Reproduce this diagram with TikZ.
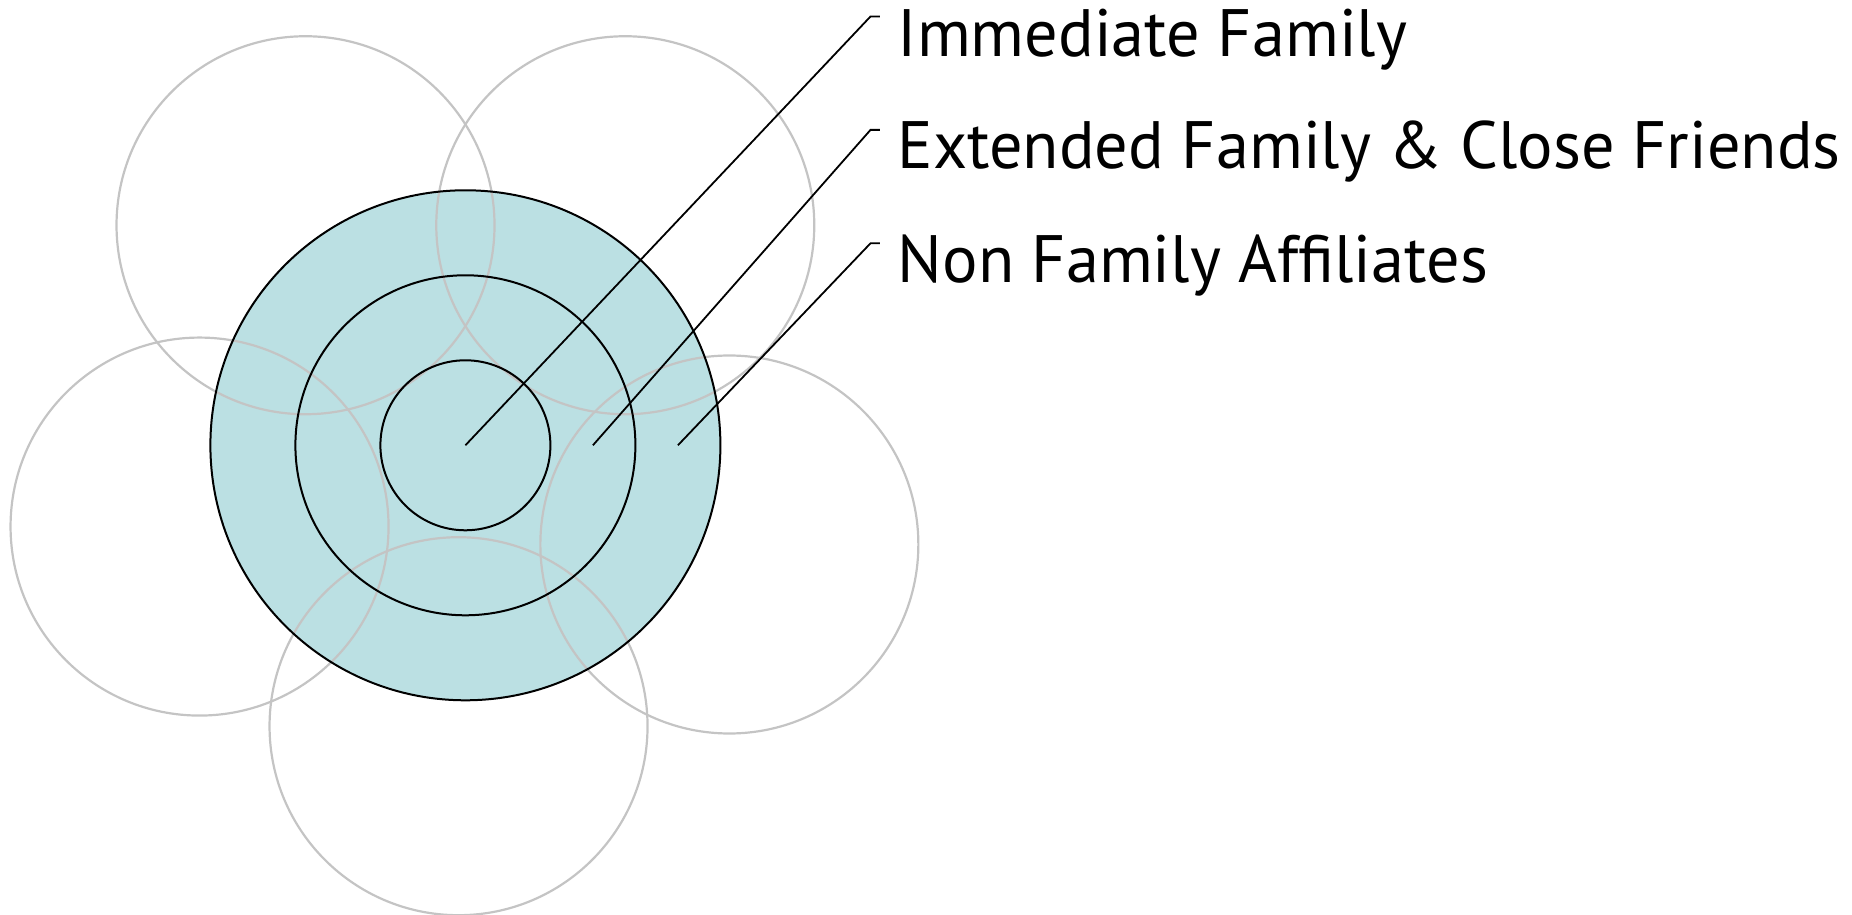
\documentclass[tikz,border=0pt]{standalone}
\usepackage{fontspec}
\setmainfont[FakeStretch=0.99]{PT Sans}
\definecolor{ringfill}{RGB}{187,224,227}
\definecolor{petal}{RGB}{196,196,196}
\tikzset{ring/.style={draw=black,line width=2pt},
	petalring/.style={draw=petal,line width=2.2pt},
	leader/.style={draw=black,line width=1.8pt},
	lbl/.style={anchor=base west,inner sep=0pt,font=\fontsize{67}{80}\selectfont}}
\begin{document}
		\begin{tikzpicture}[x=1pt,y=1pt]
		\useasboundingbox (0,0) rectangle (1852,915);
		\coordinate (c) at (465.4,469.7);
		\fill[ringfill] (c) circle (255);
		\foreach \a/\d in {126/272,54/272,197/278,-20.6/282,-91.4/281}
			\draw[petalring] (c) ++(\a:\d) circle (189);
		\draw[ring] (c) circle (255);
		\draw[ring] (c) circle (170);
		\draw[ring] (c) circle (85);
		% labels
		\node[lbl] (imm) at (897.6,858.3) {Immediate Family};
		\node[lbl] (ext) at (897.6,746.1) {Extended Family \& Close Friends};
		\node[lbl] (non) at (897.6,632.7) {Non Family Affiliates};
		\coordinate (p1) at (c);
		\coordinate (p2) at (592.9,469.7);
		\coordinate (p3) at (677.9,469.7);
		\coordinate (k1) at (870.5,898.5);
		\coordinate (k2) at (870.5,785.1);
		\coordinate (k3) at (870.5,671.7);
		\draw[leader] (p1) -- (k1) -- ++(9.4,0);
		\draw[leader] (p2) -- (k2) -- ++(9.4,0);
		\draw[leader] (p3) -- (k3) -- ++(9.4,0);
		\end{tikzpicture}
\end{document}
